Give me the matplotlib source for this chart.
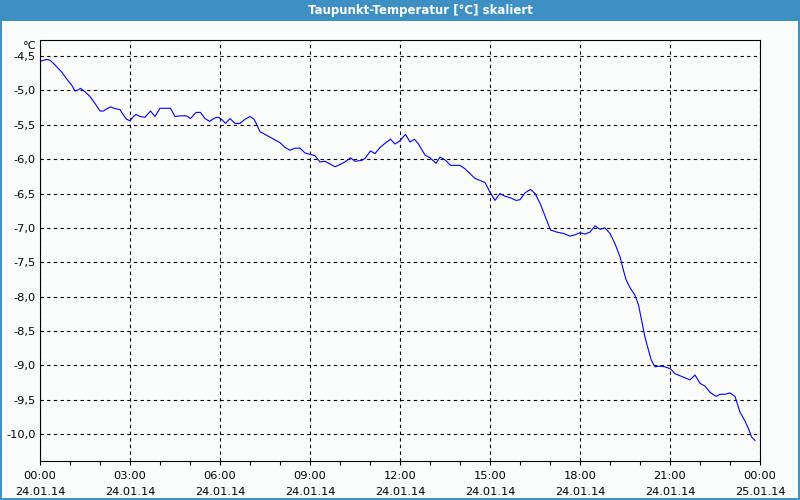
import matplotlib
matplotlib.use("Agg")
import matplotlib.pyplot as plt
from matplotlib.patches import Rectangle
from matplotlib.ticker import FuncFormatter

# Taupunkt-Temperatur over one day, time in minutes after 24.01.14 00:00
minutes = [0, 12, 20, 30, 43, 53, 63, 70, 77, 81, 90, 100, 110, 120, 127, 133, 141, 148,
           160, 167, 173, 180, 187, 192, 200, 210, 221, 230, 240, 261, 270, 280, 293, 301,
           312, 321, 330, 339, 350, 357, 363, 371, 380, 390, 400, 410, 420, 428, 433, 440,
           450, 460, 470, 480, 490, 500, 510, 520, 530, 540, 550, 560, 570, 580, 590, 600,
           610, 621, 630, 643, 650, 661, 670, 680, 690, 701, 710, 720, 731, 740, 749, 757,
           770, 780, 792, 800, 810, 821, 840, 850, 860, 870, 880, 890, 900, 910, 920, 930,
           940, 952, 960, 970, 981, 990, 1000, 1008, 1017, 1021, 1033, 1047, 1060, 1070,
           1080, 1090, 1100, 1110, 1120, 1130, 1140, 1150, 1160, 1167, 1172, 1180, 1190,
           1197, 1203, 1210, 1217, 1223, 1230, 1240, 1250, 1261, 1270, 1280, 1290, 1300,
           1310, 1320, 1330, 1340, 1352, 1360, 1370, 1380, 1390, 1400, 1410, 1417, 1423, 1430]
dewpoint = [-4.58, -4.55, -4.56, -4.63, -4.73, -4.83, -4.92, -5.01, -4.99, -4.97, -5.02, -5.09,
            -5.19, -5.30, -5.30, -5.27, -5.24, -5.26, -5.28, -5.36, -5.42, -5.44, -5.38, -5.35,
            -5.38, -5.39, -5.30, -5.38, -5.26, -5.26, -5.38, -5.37, -5.37, -5.41, -5.32, -5.32,
            -5.41, -5.45, -5.40, -5.39, -5.42, -5.48, -5.41, -5.48, -5.48, -5.42, -5.38, -5.42,
            -5.49, -5.60, -5.64, -5.68, -5.72, -5.76, -5.83, -5.87, -5.84, -5.84, -5.91, -5.93,
            -5.95, -6.04, -6.03, -6.07, -6.11, -6.08, -6.04, -5.98, -6.03, -6.02, -5.99, -5.88,
            -5.92, -5.83, -5.77, -5.71, -5.78, -5.73, -5.64, -5.75, -5.71, -5.78, -5.94, -5.98,
            -6.06, -5.97, -6.01, -6.09, -6.09, -6.14, -6.21, -6.28, -6.31, -6.34, -6.48, -6.60,
            -6.50, -6.54, -6.56, -6.60, -6.59, -6.49, -6.44, -6.50, -6.64, -6.79, -6.96, -7.03,
            -7.06, -7.08, -7.12, -7.10, -7.07, -7.09, -7.06, -6.97, -7.02, -7.00, -7.08, -7.23,
            -7.42, -7.62, -7.75, -7.87, -7.98, -8.12, -8.34, -8.59, -8.78, -8.93, -9.02, -9.01,
            -9.02, -9.05, -9.12, -9.15, -9.18, -9.21, -9.14, -9.26, -9.30, -9.39, -9.45, -9.42,
            -9.42, -9.40, -9.45, -9.68, -9.81, -9.92, -10.04, -10.09]

tick_minutes = [0, 180, 360, 540, 720, 900, 1080, 1260, 1440]
tick_labels = ["00:00\n24.01.14", "03:00\n24.01.14", "06:00\n24.01.14", "09:00\n24.01.14",
               "12:00\n24.01.14", "15:00\n24.01.14", "18:00\n24.01.14", "21:00\n24.01.14",
               "00:00\n25.01.14"]
y_ticks = [-4.5, -5.0, -5.5, -6.0, -6.5, -7.0, -7.5, -8.0, -8.5, -9.0, -9.5, -10.0]

title = "Taupunkt-Temperatur [°C] skaliert"
frame_blue = "#3d8fc4"

plt.rcParams['font.family'] = ['DejaVu Sans']
fig = plt.figure(figsize=(8, 5), dpi=100, facecolor="#fbfdfd")

# window title bar and border
fig.patches.append(Rectangle((0, 1 - 21 / 500), 1, 21 / 500, transform=fig.transFigure,
                             facecolor=frame_blue, edgecolor="none", zorder=0))
fig.patches.append(Rectangle((0.6 / 800, 0.6 / 500), 798.8 / 800, 498.8 / 500,
                             transform=fig.transFigure, facecolor="none",
                             edgecolor=frame_blue, linewidth=1.4, zorder=0))
fig.text(420 / 800, 1 - 10.5 / 500, title, color="white", fontsize=8.5,
         fontweight="bold", ha="center", va="center")

ax = fig.add_axes([40 / 800, 1 - 461 / 500, 720 / 800, 421 / 500])
ax.set_facecolor("#fbfdfd")
ax.plot(minutes, dewpoint, color="#0000ff", linewidth=0.8)

ax.set_xlim(0, 1440)
ax.set_ylim(-10.39, -4.267)

ax.set_xticks(tick_minutes)
ax.set_xticklabels(tick_labels, linespacing=1.75)
ax.set_xticks(range(0, 1441, 60), minor=True)
ax.set_yticks(y_ticks)
ax.yaxis.set_major_formatter(FuncFormatter(lambda v, p: f"{v:.1f}".replace(".", ",")))

ax.tick_params(axis="x", which="both", direction="out", length=3, width=0.8,
               labelsize=8.2, pad=4)
ax.tick_params(axis="y", length=0, labelsize=8.2, pad=3)

ax.grid(True, which="major", color="black", linestyle=(0, (3, 3)), linewidth=0.8)
for s in ax.spines.values():
    s.set_color("black")
    s.set_linewidth(0.8)

fig.text(37 / 800, 1 - 46 / 500, "°C", fontsize=8.2, ha="right", va="center")

fig.savefig("out.png", dpi=100, facecolor=fig.get_facecolor())
